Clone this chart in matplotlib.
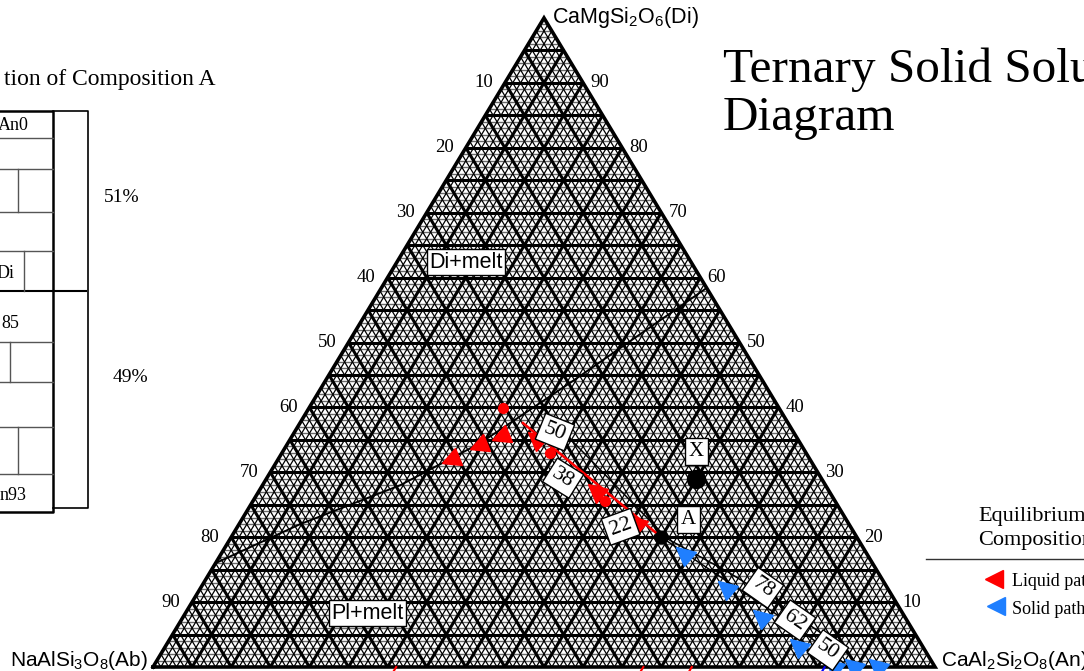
import numpy as np
import matplotlib.pyplot as plt
from matplotlib.collections import LineCollection
from matplotlib.markers import MarkerStyle
from matplotlib.transforms import Affine2D, offset_copy

plt.rcParams['mathtext.fontset'] = 'custom'
plt.rcParams['mathtext.rm'] = 'Liberation Sans'
plt.rcParams['mathtext.it'] = 'Liberation Sans:italic'

SERIF = 'Liberation Serif'
SANS = 'Liberation Sans'
RED = '#ff0000'
BLUE = '#1f7fff'

# compositions in wt% as (Di, An); Ab is whatever is left
comp_A = (20, 55)
comp_X = (29, 55)

cotectic_di = [16, 22, 28, 34.5, 44, 58.4]
cotectic_an = [0, 7.8, 17.6, 24.6, 31.6, 41.6]

liq_line_di = [20, 37.6]
liq_line_an = [55, 28.5]
melt_line_di = [20, 39.1]
melt_line_an = [55.6, 30.6]

liq_tri_di = [22.3, 27.3, 35.3]
liq_tri_an = [50.5, 42.9, 31.2]
cot_tri_di = [35.4, 34.1, 31.9]
cot_tri_an = [26.7, 24.5, 22.0]
liq_dot_di = [25.6, 33.0, 39.9]
liq_dot_an = [45.0, 34.3, 24.8]

sol_tri_di = [17.6, 12.3, 7.9, 3.4, 0.3, 0.3, 0.3]
sol_tri_an = [59.0, 67.0, 73.7, 80.7, 86.7, 89.2, 92.3]
sol_line_di = [20, 13.9, 8.8, 4.6, 1.1, 0]
sol_line_an = [55, 65.6, 74.5, 81.7, 87.3, 88.9]
sol_line2_di = [20, 14.6, 9.6, 5.3, 1.6, 0]
sol_line2_an = [55.4, 66.3, 75.4, 82.7, 88.5, 90.2]

liq_labels = ['50', '38', '22']
liq_lab_di = [36.2, 29.1, 21.6]
liq_lab_an = [33.3, 37.9, 49.0]
liq_lab_rot = [-22, -32, 20]
sol_labels = ['78', '62', '50']
sol_lab_di = [12.2, 7.2, 2.6]
sol_lab_an = [71.9, 78.5, 85.0]

red_base_an = [31.1, 62.7, 68.9]
blue_base_an = [85.9, 88.1, 92.7]

field_labels = ['Di+melt', 'Pl+melt']
field_di = [62.4, 8.3]
field_an = [8.8, 23.3]

tick_vals = [10, 20, 30, 40, 50, 60, 70, 80, 90]


def tern(di, an):
    di = np.asarray(di, dtype=float) / 100
    an = np.asarray(an, dtype=float) / 100
    return an + di / 2, di


fig = plt.figure(figsize=(10.84, 6.71), dpi=100)

# overlay in pixel units for the table, title and legend
ov = fig.add_axes([0, 0, 1, 1])
ov.set_xlim(0, 1084)
ov.set_ylim(671, 0)
ov.axis('off')
ov.set_zorder(0)

ax = fig.add_axes([153 / 1084, 4 / 671, 782 / 1084, 649 / 671])
ax.set_xlim(0, 1)
ax.set_ylim(0, 1)
ax.axis('off')
ax.set_zorder(1)
ax.patch.set_visible(False)

# grid: fine every 1 %, heavy every 5 %
fine_h, fine_o, heavy = [], [], []
for i in range(1, 100):
    d = [tern(i, 0), tern(i, 100 - i)]
    a = [tern(0, i), tern(100 - i, i)]
    b = [tern(0, 100 - i), tern(100 - i, 0)]
    if i % 5 == 0:
        heavy += [d, a, b]
    else:
        fine_h.append(d)
        fine_o += [a, b]
ax.add_collection(LineCollection(fine_h, colors='#6a6a6a', linewidths=1.0))
ax.add_collection(LineCollection(fine_o, colors='black', linewidths=0.9))
ax.add_collection(LineCollection(heavy, colors='black', linewidths=2.2))
corners = [tern(0, 0), tern(0, 100), tern(100, 0), tern(0, 0)]
ax.plot([c[0] for c in corners], [c[1] for c in corners], color='black', lw=2.6,
        solid_joinstyle='miter', clip_on=False)

# tick labels on the two sloping edges
left_off = offset_copy(ax.transData, fig=fig, x=-12, y=0, units='dots')
right_off = offset_copy(ax.transData, fig=fig, x=7, y=0, units='dots')
for v in tick_vals:
    x, y = tern(v, 0)
    ax.text(x, y, str(100 - v), transform=left_off, ha='right', va='center',
            family=SERIF, fontsize=13.5)
    x, y = tern(v, 100 - v)
    ax.text(x, y, str(v), transform=right_off, ha='left', va='center',
            family=SERIF, fontsize=13.5)

# vertex labels
x, y = tern(100, 0)
ax.text(x, y, r'CaMgSi$_2$O$_6$(Di)', transform=offset_copy(ax.transData, fig=fig, x=8, y=0, units='dots'),
        ha='left', va='center', family=SANS, fontsize=15.5)
x, y = tern(0, 0)
ax.text(x, y, r'NaAlSi$_3$O$_8$(Ab)', transform=offset_copy(ax.transData, fig=fig, x=-5, y=6, units='dots'),
        ha='right', va='center', family=SANS, fontsize=15)
x, y = tern(0, 100)
ax.text(x, y, r'CaAl$_2$Si$_2$O$_8$(An)', transform=offset_copy(ax.transData, fig=fig, x=6, y=6, units='dots'),
        ha='left', va='center', family=SANS, fontsize=15)

# cotectic and paths
ax.plot(*tern(cotectic_di, cotectic_an), color='black', lw=1.4, zorder=3)
ax.plot(*tern(melt_line_di, melt_line_an), color='black', lw=1.1, zorder=3)
ax.plot(*tern(liq_line_di, liq_line_an), color=RED, lw=1.8, zorder=4)
ax.plot(*tern(sol_line_di, sol_line_an), color='black', lw=1.1, zorder=3, clip_on=False)
ax.plot(*tern(sol_line2_di, sol_line2_an), color='black', lw=1.1, zorder=3, clip_on=False)

for an in red_base_an:
    ax.plot(*tern([0, -1.2], [an, an]), color=RED, lw=1.5, clip_on=False)
for an in blue_base_an:
    ax.plot(*tern([0, -1.2], [an, an]), color='blue', lw=1.5, clip_on=False)

up_left = MarkerStyle('<', transform=Affine2D().rotate_deg(-40))
down_left = MarkerStyle('<', transform=Affine2D().rotate_deg(20))
ax.plot(*tern(liq_tri_di, liq_tri_an), ls='none', marker=up_left, ms=13, color=RED, zorder=5)
ax.plot(*tern(cot_tri_di, cot_tri_an), ls='none', marker=down_left, ms=13, color=RED, zorder=5)
ax.plot(*tern(liq_dot_di, liq_dot_an), ls='none', marker='o', ms=7, color=RED, zorder=5)
ax.plot(*tern(sol_tri_di, sol_tri_an), ls='none', marker=up_left, ms=13, color=BLUE,
        zorder=5, clip_on=False)

ax.plot(*tern(comp_A[0], comp_A[1]), marker='o', ms=9, color='black', zorder=6)
ax.plot(*tern(comp_X[0], comp_X[1]), marker='o', ms=13, color='black', zorder=6)

box = dict(boxstyle='square,pad=0.2', fc='white', ec='black', lw=1)
for t, di, an, r in zip(liq_labels, liq_lab_di, liq_lab_an, liq_lab_rot):
    ax.text(*tern(di, an), t, rotation=r, ha='center', va='center', family=SERIF,
            fontsize=16, bbox=box, zorder=7)
for t, di, an in zip(sol_labels, sol_lab_di, sol_lab_an):
    ax.text(*tern(di, an), t, rotation=-35, ha='center', va='center', family=SERIF,
            fontsize=16, bbox=box, zorder=7)
ax.text(*tern(comp_A[0] + 2.7, comp_A[1] + 2.1), 'A', ha='center', va='center',
        family=SERIF, fontsize=15, bbox=box, zorder=7)
ax.text(*tern(comp_X[0] + 4.2, comp_X[1] - 2.1), 'X', ha='center', va='center',
        family=SERIF, fontsize=15, bbox=box, zorder=7)
for t, di, an in zip(field_labels, field_di, field_an):
    ax.text(*tern(di, an), t, ha='center', va='center', family=SANS, fontsize=15.5,
            bbox=dict(boxstyle='square,pad=0.1', fc='white', ec='black', lw=1), zorder=7)

# title
ov.text(723, 82, 'Ternary Solid Solution', family=SERIF, fontsize=35.5, va='baseline')
ov.text(723, 130, 'Diagram', family=SERIF, fontsize=35.5, va='baseline')

# legend (runs off the right edge)
ov.text(978, 517, 'Equilibrium', family=SERIF, fontsize=16, va='center')
ov.text(978, 541, 'Composition', family=SERIF, fontsize=16, va='center')
ov.plot([926, 1084], [559, 559], color='#333333', lw=1)
ov.plot(994, 579, marker='<', ms=13, color=RED, ls='none')
ov.plot(996, 606, marker='<', ms=13, color=BLUE, ls='none')
ov.text(1012, 582, 'Liquid path', family=SERIF, fontsize=13, va='center')
ov.text(1012, 610, 'Solid path', family=SERIF, fontsize=13, va='center')

# table on the left (cut by the left edge)
ov.text(215, 80, 'tion of Composition A', family=SERIF, fontsize=17, ha='right', va='center')
ov.plot([0, 53, 53, 0], [111, 111, 512, 512], color='black', lw=1.8)
ov.plot([53, 88, 88, 53], [111, 111, 508, 508], color='black', lw=1.2)
ov.plot([0, 86], [291, 291], color='black', lw=1.5)
for yy in [138, 169, 212, 251, 342, 382, 427, 474]:
    ov.plot([0, 53], [yy, yy], color='#555555', lw=1)
for xx, y0, y1 in [(18, 169, 212), (24, 251, 291), (10, 342, 382), (18, 427, 474)]:
    ov.plot([xx, xx], [y0, y1], color='#555555', lw=1)
ov.text(29, 125, 'An0', family=SERIF, fontsize=13, ha='right', va='center')
ov.text(14, 273, 'Di', family=SERIF, fontsize=13, ha='right', va='center')
ov.text(19, 324, '85', family=SERIF, fontsize=13, ha='right', va='center')
ov.text(27, 496, 'n93', family=SERIF, fontsize=13, ha='right', va='center')
ov.text(122, 198, '51%', family=SERIF, fontsize=14, ha='center', va='center')
ov.text(130, 377, '49%', family=SERIF, fontsize=14, ha='center', va='center')

fig.savefig('out.png', dpi=100)
